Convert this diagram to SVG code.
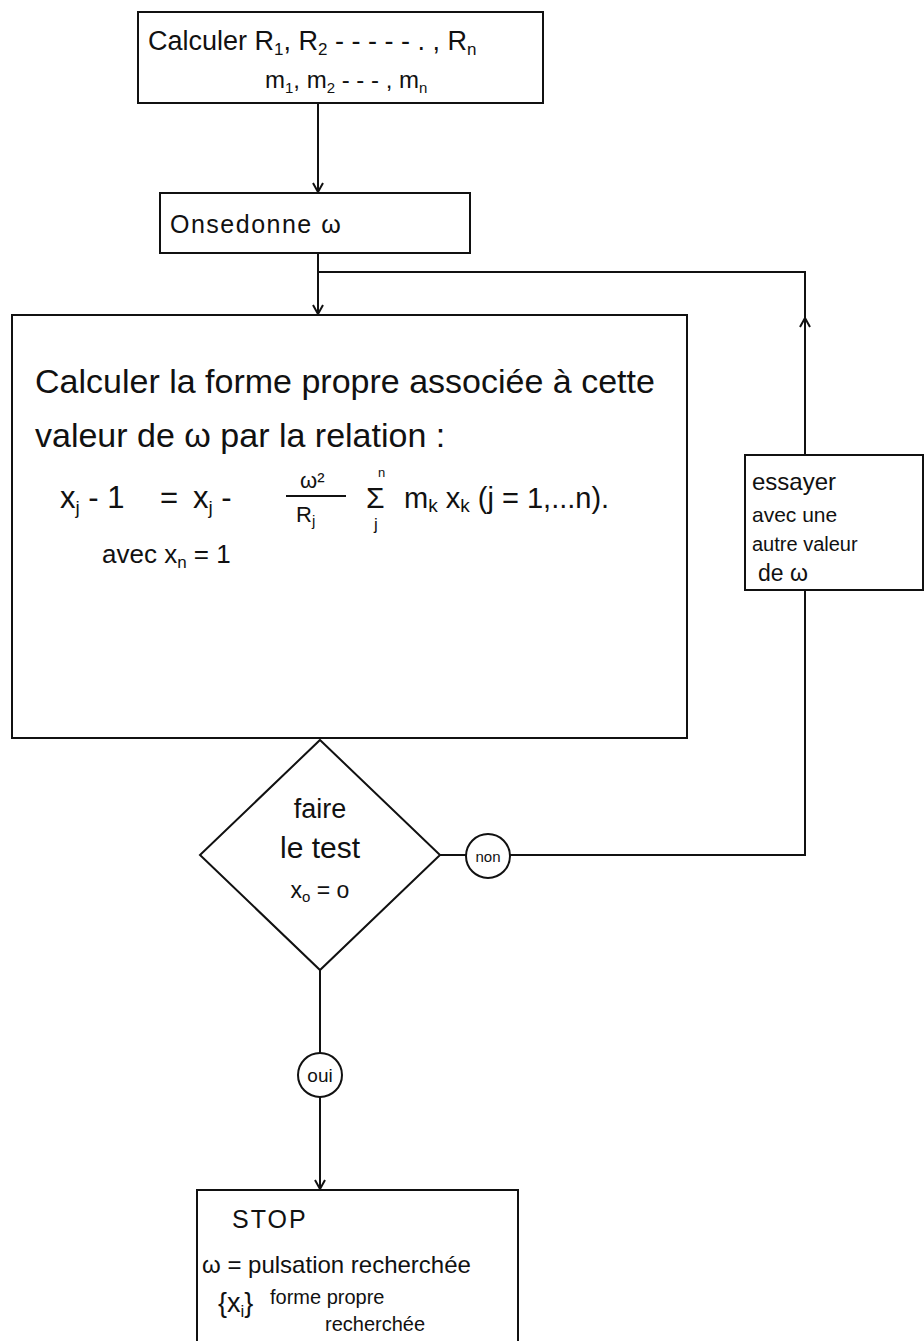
<svg xmlns="http://www.w3.org/2000/svg" width="924" height="1341" viewBox="0 0 924 1341">
<style>
.b{fill:none;stroke:#111;stroke-width:2}
.t{font-family:"Liberation Sans",Arial,sans-serif;fill:#111}
</style>
<defs>
<marker id="ar" markerWidth="12" markerHeight="12" refX="10" refY="6" orient="auto" markerUnits="userSpaceOnUse">
<path d="M1,1 L10,6 L1,11" fill="none" stroke="#111" stroke-width="2"/>
</marker>
</defs>
<rect width="924" height="1341" fill="#fff"/>
<g id="connectors" class="b">
<line x1="318" y1="103" x2="318" y2="192" marker-end="url(#ar)"/>
<line x1="318" y1="253" x2="318" y2="314" marker-end="url(#ar)"/>
<polyline points="318,272 805,272 805,455"/>
<line x1="805" y1="360" x2="805" y2="318" marker-end="url(#ar)"/>
<line x1="440" y1="855" x2="466" y2="855"/>
<polyline points="510,855 805,855 805,590"/>
<line x1="320" y1="970" x2="320" y2="1053"/>
<line x1="320" y1="1097" x2="320" y2="1189" marker-end="url(#ar)"/>
</g>
<g id="n1">
<rect class="b" x="138" y="12" width="405" height="91"/>
<text class="t" x="148" y="50" font-size="27">Calculer R<tspan font-size="17" dy="5">1</tspan><tspan dy="-5">, R</tspan><tspan font-size="17" dy="5">2</tspan><tspan dy="-5"> - - - - - . , R</tspan><tspan font-size="17" dy="5">n</tspan></text>
<text class="t" x="265" y="88" font-size="24">m<tspan font-size="15" dy="5">1</tspan><tspan dy="-5">, m</tspan><tspan font-size="15" dy="5">2</tspan><tspan dy="-5"> -      - - , m</tspan><tspan font-size="15" dy="5">n</tspan></text>
</g>
<g id="n2">
<rect class="b" x="160" y="193" width="310" height="60"/>
<text class="t" x="170" y="233" font-size="25" letter-spacing="1.5">Onsedonne  ω</text>
</g>
<g id="n3">
<rect class="b" x="12" y="315" width="675" height="423"/>
<text class="t" x="35" y="393" font-size="34">Calculer la forme propre associée à cette</text>
<text class="t" x="35" y="447" font-size="34">valeur de ω  par la relation :</text>
<text class="t" x="60" y="508" font-size="31">x<tspan font-size="19" dy="6">j</tspan><tspan dy="-6"> - 1</tspan></text>
<text class="t" x="160" y="508" font-size="31">=</text>
<text class="t" x="193" y="508" font-size="31">x<tspan font-size="19" dy="6">j</tspan><tspan dy="-6">  -</tspan></text>
<text class="t" x="300" y="488" font-size="22">ω²</text>
<line class="b" x1="286" y1="496" x2="346" y2="496"/>
<text class="t" x="296" y="522" font-size="22">R<tspan font-size="15" dy="4">j</tspan></text>
<text class="t" x="378" y="477" font-size="13">n</text>
<text class="t" x="366" y="508" font-size="30">Σ</text>
<text class="t" x="374" y="530" font-size="17">j</text>
<text class="t" x="404" y="508" font-size="29">m<tspan font-size="19" dy="4">k</tspan><tspan dy="-4"> x</tspan><tspan font-size="19" dy="4">k</tspan><tspan dy="-4">  (j = 1,...n).</tspan></text>
<text class="t" x="102" y="563" font-size="26">avec  x<tspan font-size="17" dy="5">n</tspan><tspan dy="-5"> = 1</tspan></text>
</g>
<g id="n4">
<rect class="b" x="745" y="455" width="178" height="135"/>
<text class="t" x="752" y="490" font-size="24">essayer</text>
<text class="t" x="752" y="522" font-size="21">avec  une</text>
<text class="t" x="752" y="551" font-size="20">autre valeur</text>
<text class="t" x="758" y="581" font-size="23">de  ω</text>
</g>
<g id="n5">
<polygon class="b" points="320,740 440,855 320,970 200,855"/>
<text class="t" x="320" y="818" font-size="27" text-anchor="middle">faire</text>
<text class="t" x="320" y="858" font-size="30" text-anchor="middle">le test</text>
<text class="t" x="320" y="898" font-size="23" text-anchor="middle">x<tspan font-size="15" dy="4">o</tspan><tspan dy="-4"> = o</tspan></text>
</g>
<g id="n6">
<circle class="b" cx="488" cy="856" r="22"/>
<text class="t" x="488" y="862" font-size="15" text-anchor="middle">non</text>
</g>
<g id="n7">
<circle class="b" cx="320" cy="1075" r="22"/>
<text class="t" x="320" y="1082" font-size="19" text-anchor="middle">oui</text>
</g>
<g id="n8">
<rect class="b" x="197" y="1190" width="321" height="152"/>
<text class="t" x="232" y="1228" font-size="25" letter-spacing="2">STOP</text>
<text class="t" x="202" y="1273" font-size="24">ω = pulsation recherchée</text>
<text class="t" x="218" y="1312" font-size="27">{x<tspan font-size="17" dy="5">i</tspan><tspan dy="-5">}</tspan></text>
<text class="t" x="270" y="1304" font-size="20">forme propre</text>
<text class="t" x="325" y="1331" font-size="20">recherchée</text>
</g>
</svg>
